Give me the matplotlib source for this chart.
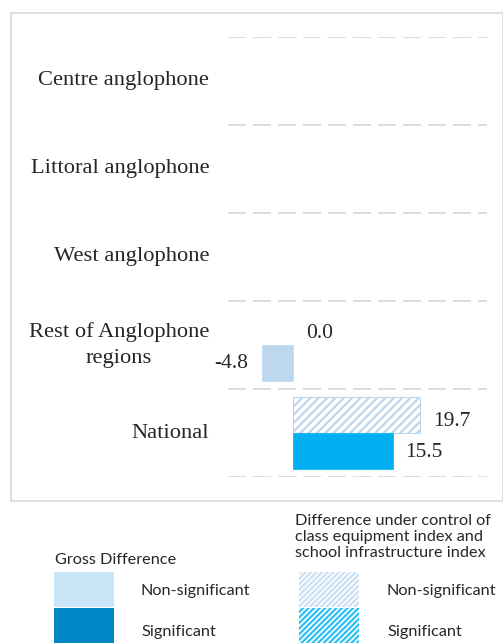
import numpy as np
import matplotlib
matplotlib.use("Agg")
import matplotlib.pyplot as plt
from matplotlib.patches import Rectangle

# Data
categories = ["Centre anglophone", "Littoral anglophone", "West anglophone",
              "Rest of Anglophone\nregions", "National"]
gross = [np.nan, np.nan, np.nan, -4.8, 15.5]
gross_sig = [False, False, False, False, True]
controlled = [np.nan, np.nan, np.nan, 0.0, 19.7]
controlled_sig = [False, False, False, False, False]

W, H = 503, 643
plt.rcParams["lines.scale_dashes"] = False
plt.rcParams["hatch.linewidth"] = 1.6

fig = plt.figure(figsize=(W / 100, H / 100), dpi=100)

# Outer frame around the chart area
frame = Rectangle((11 / W, 1 - 501 / H), (W - 11) / W, (501 - 13) / H,
                  transform=fig.transFigure, fill=False, edgecolor="#D9D9D9", linewidth=1.2)
fig.patches.append(frame)

ax = fig.add_axes([228 / W, 1 - 477 / H, (487 - 228) / W, (477 - 37) / H])
ax.set_xlim(-10, 30)
ax.set_ylim(len(categories) - 0.5, -0.5)
ax.axis("off")

serif = "Liberation Serif"
txt_color = "#262626"
nfs = 15.5

# Dashed separators
for g in np.arange(-0.5, len(categories), 1.0):
    ax.axhline(g, color="#D9D9D9", linewidth=1.3, dashes=(13, 5), zorder=0)

y = np.arange(len(categories))
h = 0.41
off = 0.205

light = "#BDD7EE"
strong = "#00B0F0"

for i in range(len(categories)):
    # difference under control (upper, hatched)
    v = controlled[i]
    if not np.isnan(v):
        col = strong if controlled_sig[i] else light
        if v != 0:
            ax.barh(y[i] - off, v, height=h, color="white", edgecolor=col, hatch="////",
                    linewidth=0.8)
        if v >= 0:
            ax.text(v + 2, y[i] - off + 0.07, f"{v:.1f}", ha="left", va="center",
                    fontsize=nfs, family=serif, color=txt_color)
        else:
            ax.text(v - 2, y[i] - off, f"{v:.1f}", ha="right", va="center",
                    fontsize=nfs, family=serif, color=txt_color)
    # gross difference (lower, solid)
    v = gross[i]
    if not np.isnan(v):
        col = strong if gross_sig[i] else light
        if v != 0:
            ax.barh(y[i] + off, v, height=h, color=col, edgecolor=col, linewidth=0.5)
        if v >= 0:
            ax.text(v + 1.8, y[i] + off + 0.02, f"{v:.1f}", ha="left", va="center",
                    fontsize=nfs, family=serif, color=txt_color)
        else:
            ax.text(v - 2, y[i] + off, f"{v:.1f}", ha="right", va="center",
                    fontsize=nfs, family=serif, color=txt_color)

# Category labels
for i, c in enumerate(categories):
    ax.text(-12.9, y[i], c, ha="right", va="center", multialignment="center",
            fontsize=16.2, family=serif, color=txt_color, linespacing=1.45)

# Legend
sans = "Lato"
fs = 11.7


def px_rect(x0, y0, x1, y1, **kw):
    r = Rectangle((x0 / W, 1 - y1 / H), (x1 - x0) / W, (y1 - y0) / H,
                  transform=fig.transFigure, **kw)
    fig.patches.append(r)


def px_text(x, yy, s, **kw):
    fig.text(x / W, 1 - yy / H, s, fontsize=fs, family=sans, color=txt_color, **kw)


px_text(55, 560, "Gross Difference", ha="left", va="center")
px_rect(54, 572, 114, 607, facecolor="#C9E5F8", edgecolor="none")
px_rect(54, 608, 114, 643, facecolor="#0088C6", edgecolor="none")
px_text(141, 591, "Non-significant", ha="left", va="center")
px_text(141, 632, "Significant", ha="left", va="center")

px_text(295, 537, "Difference under control of\nclass equipment index and\nschool infrastructure index",
        ha="left", va="center", linespacing=1.2)
px_rect(299, 572, 359, 607, facecolor="white", edgecolor="#C9E0F4", hatch="//////", linewidth=0)
px_rect(299, 608, 359, 643, facecolor="white", edgecolor="#2EC0F2", hatch="//////", linewidth=0)
px_text(387, 591, "Non-significant", ha="left", va="center")
px_text(387, 632, "Significant", ha="left", va="center")

fig.savefig("out.png", dpi=100)
